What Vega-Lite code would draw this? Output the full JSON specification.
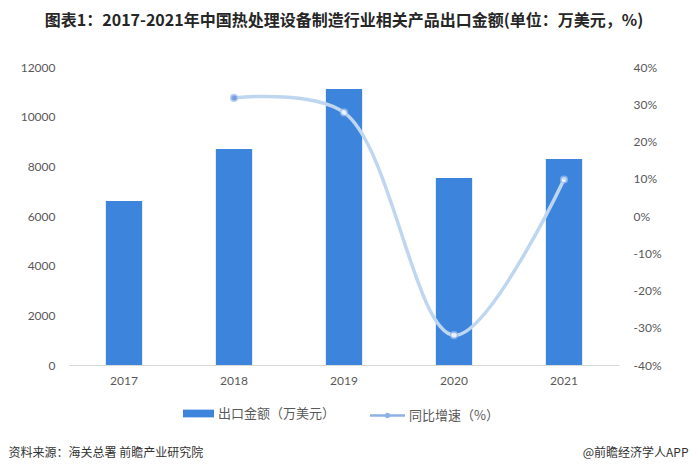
{
  "$schema": "https://vega.github.io/schema/vega-lite/v6.json",
  "autosize": "none",
  "width": 550,
  "height": 298,
  "padding": {"left": 69, "top": 67, "right": 72, "bottom": 104},
  "background": "white",
  "title": {
    "text": "图表1：2017-2021年中国热处理设备制造行业相关产品出口金额(单位：万美元，%)",
    "font": "Noto Sans CJK SC",
    "fontSize": 16,
    "fontWeight": "bold",
    "color": "#262626",
    "anchor": "middle",
    "frame": "group",
    "offset": 32
  },
  "config": {
    "view": {"stroke": null},
    "axis": {"labelFont": "Lato", "labelFontSize": 12, "labelColor": "#595959", "grid": false, "ticks": false, "titleFont": "Noto Sans CJK SC", "titleFontSize": 12, "titleColor": "#333333", "titleFontWeight": "normal"},
    "legend": {"labelFont": "Noto Sans CJK SC", "labelFontSize": 13, "labelColor": "#595959"}
  },
  "data": {
    "values": [
      {"year": "2017", "amount": 6604, "growth": null},
      {"year": "2018", "amount": 8698, "growth": 31.7},
      {"year": "2019", "amount": 11114, "growth": 27.8},
      {"year": "2020", "amount": 7530, "growth": -32.0},
      {"year": "2021", "amount": 8295, "growth": 9.8}
    ]
  },
  "encoding": {
    "x": {
      "field": "year",
      "type": "ordinal",
      "scale": {"paddingInner": 0.67, "paddingOuter": 0.335},
      "axis": {
        "labelAngle": 0,
        "labelPadding": 10,
        "domainColor": "#d9d9d9",
        "title": "资料来源：海关总署 前瞻产业研究院",
        "titleAnchor": "start",
        "titleAlign": "left",
        "titleBaseline": "middle",
        "titleX": -61,
        "titleY": 87
      }
    }
  },
  "layer": [
    {
      "mark": {"type": "bar", "color": "#3d85dc"},
      "encoding": {
        "y": {
          "field": "amount",
          "type": "quantitative",
          "scale": {"domain": [0, 12000]},
          "axis": {"values": [0, 2000, 4000, 6000, 8000, 10000, 12000], "format": "d", "domain": false, "labelPadding": 14, "title": null}
        },
        "color": {
          "datum": "出口金额（万美元）",
          "scale": {"range": ["#3d85dc"]},
          "legend": {
            "orient": "none",
            "legendX": 114,
            "legendY": 331,
            "title": null,
            "symbolType": "M-1,-0.25H1V0.25H-1Z",
            "symbolSize": 960,
            "symbolStrokeWidth": 0,
            "labelOffset": 4
          }
        }
      }
    },
    {
      "encoding": {
        "y": {
          "field": "growth",
          "type": "quantitative",
          "scale": {"domain": [-40, 40]},
          "axis": {
            "orient": "right",
            "values": [-40, -30, -20, -10, 0, 10, 20, 30, 40],
            "labelExpr": "datum.value + '%'",
            "labelAlign": "left",
            "labelPadding": 14,
            "domain": false,
            "title": "@前瞻经济学人APP",
            "titleAngle": 0,
            "titleAlign": "right",
            "titleBaseline": "middle",
            "titleX": 69,
            "titleY": 385
          }
        }
      },
      "layer": [
        {
          "mark": {"type": "line", "interpolate": "catmull-rom", "strokeWidth": 3.5},
          "encoding": {
            "stroke": {
              "datum": "同比增速（%）",
              "scale": {"range": ["#bfd6f1"]},
              "legend": {
                "orient": "none",
                "legendX": 301,
                "legendY": 331,
                "title": null,
                "symbolType": "M-1,-0.07H1V0.07H-1Z M0.16,0 A0.16,0.16 0 1,1 -0.16,0 A0.16,0.16 0 1,1 0.16,0Z",
                "symbolSize": 1225,
                "symbolFillColor": "#8fb2e6",
                "symbolStrokeWidth": 0,
                "labelOffset": 4
              }
            }
          }
        },
        {
          "mark": {"type": "point", "filled": true, "size": 45, "strokeWidth": 1.5, "stroke": "#9fbfe8"},
          "encoding": {
            "fill": {"condition": {"test": "datum.year == '2018'", "value": "#4f80d6"}, "value": "#ffffff"}
          }
        }
      ]
    }
  ],
  "resolve": {"scale": {"y": "independent"}}
}
